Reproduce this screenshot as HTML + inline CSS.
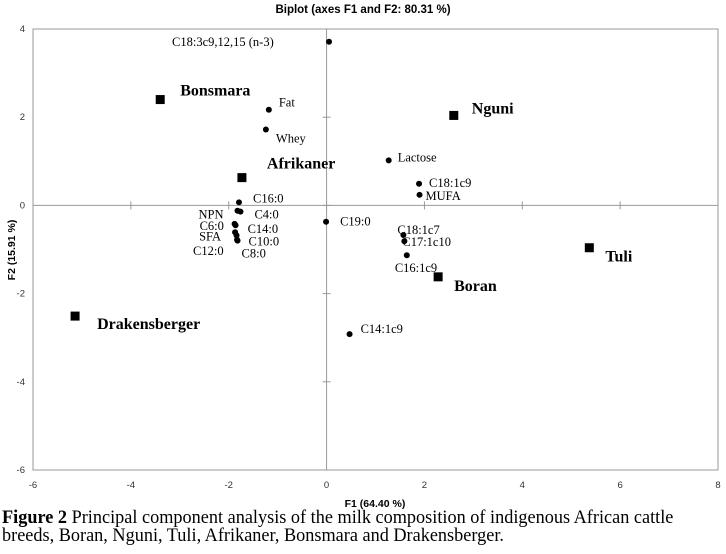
<!DOCTYPE html>
<html><head><meta charset="utf-8"><style>
body{margin:0;background:#fff;width:726px;height:554px;overflow:hidden;font-family:"Liberation Sans",sans-serif;position:relative}
#cap{position:absolute;left:2px;top:509px;font-family:"Liberation Serif",serif;font-size:19px;line-height:18px;color:#000;transform:scaleX(0.96);transform-origin:0 0;white-space:nowrap}
</style></head><body>
<svg id="chart" width="726" height="554" style="position:absolute;left:0;top:0" xmlns="http://www.w3.org/2000/svg">
<text x="363" y="13" text-anchor="middle" font-size="11.5" font-weight="bold" font-family="Liberation Sans, sans-serif">Biplot (axes F1 and F2: 80.31 %)</text>
<g id="axes"></g><g id="marks"></g>
<text x="375" y="507" text-anchor="middle" font-size="10.5" font-weight="bold">F1 (64.40 %)</text>
<text transform="translate(15,250) rotate(-90)" text-anchor="middle" font-size="10.5" font-weight="bold">F2 (15.91 %)</text>
</svg>
<div id="cap"><b>Figure 2</b> Principal component analysis of the milk composition of indigenous African cattle<br>breeds, Boran, Nguni, Tuli, Afrikaner, Bonsmara and Drakensberger.</div>
<script>
const xTicks=[-6,-4,-2,0,2,4,6,8];
const yTicks=[-6,-4,-2,0,2,4];
const varNames=["C18:3c9,12,15 (n-3)","Fat","Whey","C16:0","NPN","C4:0","C6:0","C14:0","SFA","C10:0","C12:0","C8:0","C19:0","Lactose","C18:1c9","MUFA","C18:1c7","C17:1c10","C16:1c9","C14:1c9"];
const varX=[0.05,-1.18,-1.24,-1.79,-1.82,-1.76,-1.88,-1.86,-1.87,-1.84,-1.83,-1.82,-0.01,1.27,1.89,1.90,1.57,1.59,1.64,0.47];
const varY=[3.71,2.17,1.72,0.07,-0.12,-0.14,-0.42,-0.45,-0.61,-0.68,-0.78,-0.8,-0.37,1.02,0.49,0.24,-0.67,-0.81,-1.13,-2.92];
const breedNames=["Bonsmara","Nguni","Afrikaner","Tuli","Boran","Drakensberger"];
const breedX=[-3.40,2.60,-1.73,5.37,2.28,-5.14];
const breedY=[2.40,2.04,0.63,-0.96,-1.62,-2.51];
const varLab={"C18:3c9,12,15 (n-3)":[-157,4],"Fat":[10,-3],"Whey":[10,13],"C16:0":[14,0],"NPN":[-39,8],"C4:0":[14,7],"C6:0":[-35,6],"C14:0":[12,8],"SFA":[-36,8],"C10:0":[12,10],"C12:0":[-44,15],"C8:0":[4,17],"C19:0":[14,4],"Lactose":[9,1],"C18:1c9":[10,3],"MUFA":[6,5],"C18:1c7":[-6,-1],"C17:1c10":[-2,5],"C16:1c9":[-12,17],"C14:1c9":[11,-1]};
const breedLab={"Bonsmara":[20,-4],"Nguni":[18,-2],"Afrikaner":[25,-9],"Tuli":[16,14],"Boran":[16,14],"Drakensberger":[22,13]};
const L=33,R=718,T=29,B=470;
const xs=v=>L+(v-(-6))*(R-L)/14;
const ys=v=>T+(4-v)*(B-T)/10;
const NS="http://www.w3.org/2000/svg";
function mk(tag,attrs,parent,txt){const e=document.createElementNS(NS,tag);for(const k in attrs)e.setAttribute(k,attrs[k]);if(txt!==undefined)e.textContent=txt;parent.appendChild(e);return e;}
const ax=document.getElementById('axes'),mg=document.getElementById('marks');
const box=mk('rect',{x:L,y:T,width:R-L,height:B-T,fill:'none',stroke:'#999','stroke-width':1},ax);


const vx=mk('line',{x1:xs(0),x2:xs(0),y1:T,y2:B,stroke:'#999'},ax);


const hy=mk('line',{x1:L,x2:R,y1:ys(0),y2:ys(0),stroke:'#999'},ax);


xTicks.forEach(t=>{
  const tk=mk('line',{x1:xs(t),x2:xs(t),y1:ys(0)-4,y2:ys(0)+4,stroke:'#999'},ax);
  
  
  const tl=mk('text',{x:xs(t),y:B+18,'text-anchor':'middle','font-size':9.5,fill:'#333'},ax,String(t));
  
  
});
yTicks.forEach(t=>{
  const tk=mk('line',{x1:xs(0)-4,x2:xs(0)+4,y1:ys(t),y2:ys(t),stroke:'#999'},ax);
  
  
  const tl=mk('text',{x:L-8,y:ys(t)+3,'text-anchor':'end','font-size':9.5,fill:'#333'},ax,String(t));
  
  
});
varNames.forEach((n,i)=>{
  const cx=xs(varX[i]),cy=ys(varY[i]);
  const c=mk('circle',{cx:cx,cy:cy,r:3,fill:'#000'},mg);
  
  
  const o=varLab[n]||[8,4];
  const t=mk('text',{x:cx+o[0],y:cy+o[1],'font-size':12.5,'font-family':'Liberation Serif, serif'},mg,n);
  
  
});
breedNames.forEach((n,i)=>{
  const cx=xs(breedX[i]),cy=ys(breedY[i]);
  const s=mk('rect',{x:cx-4.5,y:cy-4.5,width:9,height:9,fill:'#000'},mg);
  
  
  const o=breedLab[n];
  const t=mk('text',{x:cx+o[0],y:cy+o[1],'font-size':16,'font-weight':'bold','font-family':'Liberation Serif, serif'},mg,n);
  
  
});
</script>
</body></html>
